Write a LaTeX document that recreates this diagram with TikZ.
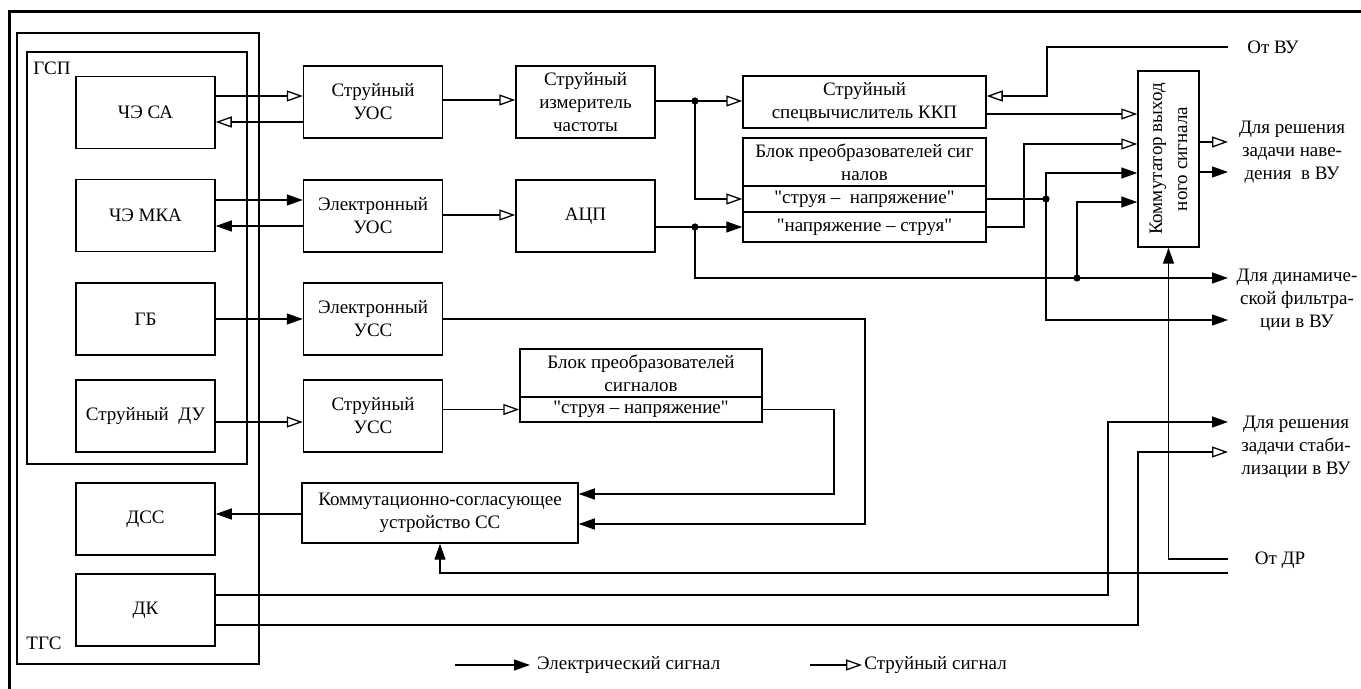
\documentclass[tikz,border=0pt]{standalone}
\usepackage{fontspec}
\setmainfont{Liberation Serif}[Ligatures=TeXOff]
\usetikzlibrary{arrows.meta}
\tikzset{
  blk/.style={draw, line width=0.75pt, inner sep=0pt, align=center},
  cbox/.style={blk, minimum width=69.5pt, minimum height=36pt},
  wbox/.style={blk, minimum width=121.5pt},
  con/.style={line width=0.65pt},
  elec/.style={con, -{Triangle[length=8pt,width=5.5pt]}},
  jet/.style={con, -{Triangle[open,length=8pt,width=5.5pt]}},
  lbl/.style={align=center}
}
\newcommand{\jdot}[1]{\fill (#1) circle (1.8pt);}
\begin{document}
\begin{tikzpicture}[x=0.5pt, y=-0.5pt, font=\fontsize{9.5}{11.5}\selectfont]
\useasboundingbox (0,0) rectangle (1361,689);
\draw[line width=1.5pt] (9,689) -- (9,12) -- (1361,12);

% ТГС и ГСП
\node[blk, line width=0.9pt, minimum width=121pt, minimum height=315.5pt] (tgs) at (138,348.5) {};
\node[blk, line width=0.9pt, minimum width=110pt, minimum height=206pt] (gsp) at (137,258) {};
\node (tgsL) at (44,643) {ТГС};
\node (gspL) at (52,68) {ГСП};

\node[cbox] (chesa) at (145.5,112.5) {ЧЭ СА};
\node[cbox] (chemka) at (145.5,215.5) {ЧЭ МКА};
\node[cbox] (gb) at (145.5,319) {ГБ};
\node[cbox] (strdu) at (145.5,416) {Струйный~~ДУ};
\node[cbox] (dss) at (145.5,519) {ДСС};
\node[cbox] (dk) at (145.5,610) {ДК};

\node[cbox] (struos) at (373,102) {Струйный\\УОС};
\node[cbox] (eluos) at (373,216) {Электронный\\УОС};
\node[cbox] (eluss) at (373,319) {Электронный\\УСС};
\node[cbox] (struss) at (373,416) {Струйный\\УСС};
\node[blk, minimum width=138pt, minimum height=30pt] (kom) at (440,513) {Коммутационно-согласующее\\устройство СС};

\node[cbox] (izm) at (585.5,102) {Струйный\\измеритель\\частоты};
\node[cbox] (adc) at (585.5,216) {АЦП};
\node[wbox, minimum width=121pt, minimum height=24pt] (bpL) at (641,373) {Блок преобразователей\\сигналов};
\node[wbox, minimum width=121pt, minimum height=12.5pt] (bpLs) at (641,409.5) {"струя – напряжение"};

\node[wbox, minimum height=26pt] (kkp) at (864.5,102) {Струйный\\спецвычислитель ККП};
\node[wbox, minimum height=24pt] (bpU) at (864.5,162) {Блок преобразователей сиг\\налов};
\node[wbox, minimum height=13pt] (bpS) at (864.5,199) {"струя –~~напряжение"};
\node[wbox, minimum height=15pt] (bpN) at (864.5,227) {"напряжение – струя"};

\node[blk, minimum width=30.5pt, minimum height=88pt] (comm) at (1168.5,159) {};
\node[rotate=90, align=center, font=\fontsize{9.5}{12.5}\selectfont] (commL) at (comm.center) {Коммутатор выход\\ного сигнала};

% выходы и входы справа
\node[lbl] (tvu) at (1273,47) {От ВУ};
\node[lbl] (tnav) at (1292,152) {Для решения\\задачи наве-\\дения~~в ВУ};
\node[lbl] (tdyn) at (1297,300) {Для динамиче-\\ской фильтра-\\ции в ВУ};
\node[lbl] (tstab) at (1296,447) {Для решения\\задачи стаби-\\лизации в ВУ};
\node[lbl] (tdr) at (1280,560) {От ДР};

\coordinate (vu) at (1228,47);
\coordinate (nav1) at (1228,142);
\coordinate (nav2) at (1228,172);
\coordinate (dyn1) at (1228,278);
\coordinate (dyn2) at (1228,320);
\coordinate (st1) at (1228,422);
\coordinate (st2) at (1228,452);
\coordinate (dr1) at (1228,559);
\coordinate (dr2) at (1228,573);

\coordinate (j1) at (695,101);
\coordinate (j2) at (695,227);
\coordinate (j3) at (1077,278);
\coordinate (j4) at (1046,199);

% ГСП - УОС, УСС
\draw[jet] (chesa.east |- 0,96) -- (struos.west |- 0,96);
\draw[jet] (struos.west |- 0,122) -- (chesa.east |- 0,122);
\draw[elec] (chemka.east |- 0,200) -- (eluos.west |- 0,200);
\draw[elec] (eluos.west |- 0,226) -- (chemka.east |- 0,226);
\draw[elec] (gb.east) -- (eluss.west);
\draw[jet] (strdu.east |- 0,422) -- (struss.west |- 0,422);

\draw[jet] (struos.east |- 0,100) -- (izm.west |- 0,100);
\draw[jet] (eluos.east |- 0,215) -- (adc.west |- 0,215);

% верхний блок
\draw[jet] (izm.east |- j1) -- (kkp.west |- j1);
\draw[jet] (j1) |- (bpS.west);
\draw[elec] (adc.east |- j2) -- (bpN.west |- j2);
\draw[elec] (j2) |- (dyn1);
\draw[elec] (j3) |- (comm.west |- 0,202);
\draw[con] (bpS.east) -- (j4);
\draw[elec] (j4) |- (comm.west |- 0,173);
\draw[elec] (j4) |- (dyn2);
\draw[jet] (bpN.east) -| (1024,144) -- (comm.west |- 0,144);
\draw[jet] (kkp.east |- 0,114) -- (comm.west |- 0,114);
\draw[jet] (vu) -| (1047,96) -- (kkp.east |- 0,96);
\draw[jet] (comm.east |- nav1) -- (nav1);
\draw[elec] (comm.east |- nav2) -- (nav2);
\draw[elec] (dr1) -| (comm.south);
\jdot{j1} \jdot{j2} \jdot{j3} \jdot{j4}

% нижний блок
\draw[jet] (struss.east |- bpLs) -- (bpLs.west);
\draw[elec] (bpLs.east) -| (834,494) -- (kom.east |- 0,494);
\draw[elec] (eluss.east) -| (865,524) -- (kom.east |- 0,524);
\draw[elec] (kom.west |- 0,514) -- (dss.east |- 0,514);
\draw[elec] (dr2) -| (kom.south);
\draw[elec] (dk.east |- 0,595) -| (1108,422) -- (st1);
\draw[jet] (dk.east |- 0,625) -| (1138,452) -- (st2);

% легенда
\coordinate (lgE) at (455,665);
\coordinate (lgJ) at (810,665);
\node[anchor=west] (tE) at (530,665) {Электрический сигнал};
\node[anchor=west, inner sep=1pt] (tJ) at (862,665) {Струйный сигнал};
\draw[elec] (lgE) -- (tE.west);
\draw[jet] (lgJ) -- (tJ.west);
\end{tikzpicture}
\end{document}
